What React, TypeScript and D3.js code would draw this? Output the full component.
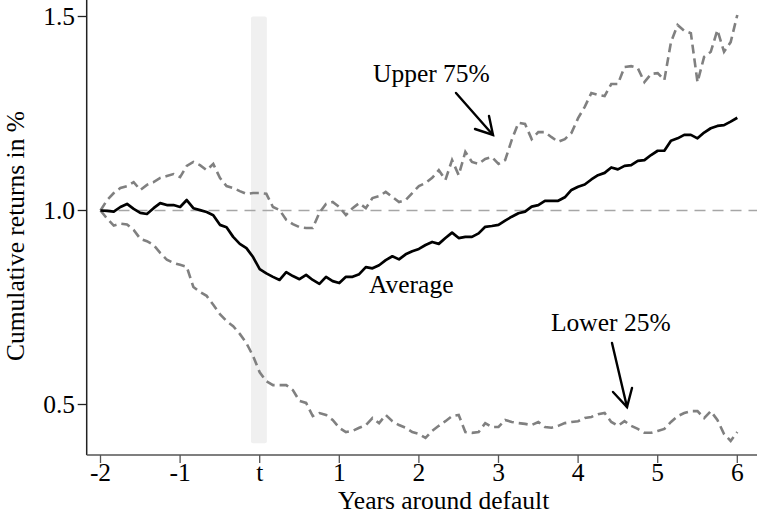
import React from "react";
import * as d3 from "d3";

// monthly observations from -2 to +6 years around default (97 points)
const averageSeries = [
  1.000, 0.999, 0.997, 1.009, 1.017, 1.004, 0.994, 0.991, 1.006, 1.019, 1.014, 1.014, 1.009,
  1.027, 1.006, 1.001, 0.996, 0.988, 0.963, 0.957, 0.932, 0.914, 0.903, 0.880, 0.849,
  0.838, 0.829, 0.821, 0.841, 0.831, 0.823, 0.834, 0.821, 0.811, 0.829, 0.818, 0.813,
  0.829, 0.829, 0.836, 0.854, 0.851, 0.859, 0.872, 0.882, 0.874, 0.887, 0.895, 0.901,
  0.911, 0.919, 0.914, 0.929, 0.943, 0.929, 0.932, 0.932, 0.941, 0.958, 0.960, 0.963,
  0.974, 0.984, 0.993, 0.997, 1.010, 1.014, 1.025, 1.025, 1.025, 1.034, 1.053, 1.061,
  1.067, 1.080, 1.091, 1.097, 1.111, 1.106, 1.115, 1.117, 1.128, 1.130, 1.143, 1.154,
  1.154, 1.180, 1.186, 1.195, 1.195, 1.186, 1.201, 1.212, 1.218, 1.220, 1.229, 1.239,
];

const upperSeries = [
  1.000, 1.027, 1.045, 1.058, 1.063, 1.073, 1.053, 1.066, 1.073, 1.084, 1.089, 1.094, 1.086,
  1.115, 1.125, 1.117, 1.104, 1.120, 1.084, 1.063, 1.058, 1.050, 1.043, 1.045, 1.045,
  1.043, 1.009, 1.001, 0.976, 0.965, 0.957, 0.955, 0.955, 0.994, 1.017, 1.022, 1.009,
  0.988, 1.006, 1.019, 1.006, 1.032, 1.037, 1.048, 1.035, 1.022, 1.027, 1.045, 1.063,
  1.071, 1.084, 1.104, 1.079, 1.130, 1.091, 1.151, 1.125, 1.120, 1.133, 1.138, 1.120,
  1.130, 1.182, 1.226, 1.223, 1.184, 1.202, 1.202, 1.189, 1.177, 1.184, 1.200, 1.238,
  1.267, 1.303, 1.298, 1.295, 1.326, 1.326, 1.370, 1.372, 1.367, 1.331, 1.352, 1.354,
  1.336, 1.434, 1.478, 1.463, 1.457, 1.331, 1.396, 1.409, 1.465, 1.409, 1.434, 1.504,
];

const lowerSeries = [
  1.000, 0.979, 0.961, 0.966, 0.964, 0.950, 0.927, 0.921, 0.911, 0.891, 0.873, 0.865, 0.860,
  0.855, 0.803, 0.790, 0.780, 0.757, 0.733, 0.715, 0.702, 0.682, 0.658, 0.625, 0.583,
  0.560, 0.550, 0.550, 0.550, 0.537, 0.509, 0.504, 0.470, 0.478, 0.473, 0.460, 0.440,
  0.429, 0.432, 0.440, 0.447, 0.465, 0.452, 0.473, 0.457, 0.447, 0.440, 0.429, 0.424,
  0.414, 0.432, 0.445, 0.457, 0.470, 0.473, 0.429, 0.427, 0.429, 0.452, 0.442, 0.442,
  0.460, 0.455, 0.452, 0.450, 0.447, 0.455, 0.442, 0.440, 0.445, 0.452, 0.455, 0.457,
  0.465, 0.468, 0.475, 0.478, 0.455, 0.445, 0.457, 0.445, 0.437, 0.427, 0.427, 0.432,
  0.437, 0.455, 0.470, 0.478, 0.483, 0.483, 0.465, 0.483, 0.460, 0.424, 0.406, 0.429,
];

const xTickValues = [-2, -1, 0, 1, 2, 3, 4, 5, 6];
const xTickLabels = ["-2", "-1", "t", "1", "2", "3", "4", "5", "6"];
const yTickValues = [0.5, 1.0, 1.5];
const yTickLabels = ["0.5", "1.0", "1.5"];

const W = 757;
const H = 515;
const FONT = "'Liberation Serif', 'Times New Roman', serif";
const FS = 25.5;

export default function App() {
  const x = d3.scaleLinear().domain([-2, 6]).range([100.5, 737.3]);
  const y = d3.scaleLinear().domain([0.5, 1.5]).range([404.5, 16.5]);
  const xMonth = (i: number) => x(-2 + i / 12);

  const line = d3
    .line<number>()
    .x((_, i) => xMonth(i))
    .y((d) => y(d));

  const axisLeft = 86.7;
  const axisBottom = 455;

  return (
    <svg
      width={W}
      height={H}
      style={{ position: "absolute", left: 0, top: 0, background: "#fff" }}
      fontFamily={FONT}
    >
      {/* default period band */}
      <rect
        x={x(-0.11)}
        y={y(1.5)}
        width={x(0.09) - x(-0.11)}
        height={y(0.4) - y(1.5)}
        fill="#f0f0f0"
        rx={2}
      />
      {/* reference line at 1.0 */}
      <line
        x1={x(-2)}
        x2={W}
        y1={y(1)}
        y2={y(1)}
        stroke="#a6a6a6"
        strokeWidth={1.6}
        strokeDasharray="11,7"
      />
      <path d={line(upperSeries) || ""} fill="none" stroke="#808080" strokeWidth={2.6} strokeDasharray="9,5" />
      <path d={line(lowerSeries) || ""} fill="none" stroke="#808080" strokeWidth={2.6} strokeDasharray="9,5" />
      <path d={line(averageSeries) || ""} fill="none" stroke="#000" strokeWidth={2.7} strokeLinejoin="round" />

      {/* axes */}
      <line x1={axisLeft} x2={axisLeft} y1={0} y2={axisBottom} stroke="#222" strokeWidth={1.5} />
      <line x1={axisLeft} x2={W} y1={axisBottom} y2={axisBottom} stroke="#555" strokeWidth={1.6} />
      {yTickValues.map((v, i) => (
        <g key={"y" + i}>
          <line x1={axisLeft - 9} x2={axisLeft} y1={y(v)} y2={y(v)} stroke="#222" strokeWidth={1.3} />
          <text x={75} y={y(v)} dy="0.35em" textAnchor="end" fontSize={FS}>
            {yTickLabels[i]}
          </text>
        </g>
      ))}
      {xTickValues.map((v, i) => (
        <g key={"x" + i}>
          <line x1={x(v)} x2={x(v)} y1={axisBottom} y2={axisBottom + 8} stroke="#555" strokeWidth={1.3} />
          <text x={x(v)} y={481} textAnchor="middle" fontSize={FS}>
            {xTickLabels[i]}
          </text>
        </g>
      ))}
      <text x={338} y={509} textAnchor="start" fontSize={FS}>
        Years around default
      </text>
      <text
        transform={`translate(24, 236) rotate(-90)`}
        textAnchor="middle"
        fontSize={FS}
      >
        Cumulative returns in %
      </text>

      {/* annotations */}
      <text x={373} y={82} fontSize={FS}>Upper 75%</text>
      <text x={369} y={293} fontSize={FS}>Average</text>
      <text x={551} y={331} fontSize={FS}>Lower 25%</text>

      <g stroke="#000" strokeWidth={2.4} fill="none" strokeLinecap="round">
        <line x1={456} y1={93} x2={493} y2={135} />
        <polyline points="475,129 493,135 489,116" />
        <line x1={612} y1={343} x2={627} y2={407} />
        <polyline points="613,392 627,407 632,388" />
      </g>
    </svg>
  );
}
